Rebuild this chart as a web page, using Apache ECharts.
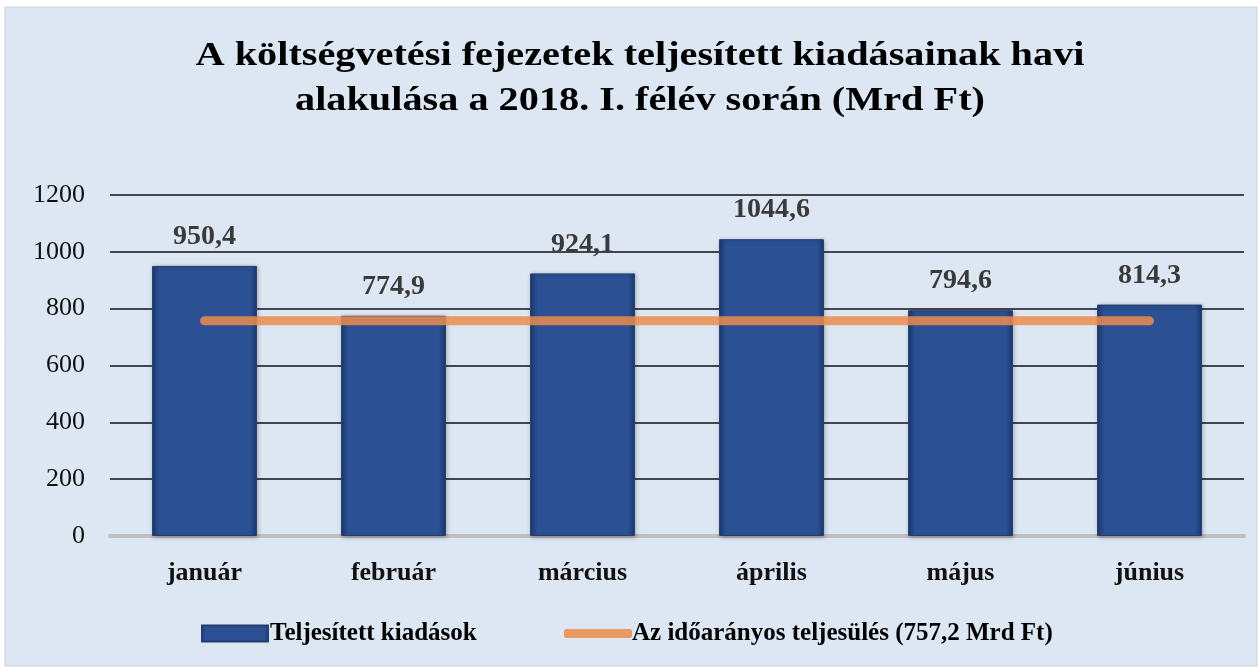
<!DOCTYPE html>
<html>
<head>
<meta charset="utf-8">
<script src="https://cdn.jsdelivr.net/npm/echarts@6/dist/echarts.min.js"></script>
<style>
  html, body { margin: 0; padding: 0; background: #fff; }
  #chart { width: 1258px; height: 667px; }
</style>
</head>
<body>
<div id="chart"></div>
<script>
// Adatok
const months = ['január', 'február', 'március', 'április', 'május', 'június'];
const spending = [950.4, 774.9, 924.1, 1044.6, 794.6, 814.3];
const timeProportional = [757.2, 757.2, 757.2, 757.2, 757.2, 757.2];
const yTicks = [0, 200, 400, 600, 800, 1000, 1200];

const titleText = 'A költségvetési fejezetek teljesített kiadásainak havi\nalakulása a 2018. I. félév során (Mrd Ft)';
const barName = 'Teljesített kiadások';
const lineName = 'Az időarányos teljesülés (757,2 Mrd Ft)';

const SERIF = '"Liberation Serif", "DejaVu Serif", serif';

const chart = echarts.init(document.getElementById('chart'));

const barColor = new echarts.graphic.LinearGradient(0, 0, 1, 0, [
    {offset: 0, color: '#1d3a72'},
    {offset: 0.07, color: '#2b5194'},
    {offset: 0.93, color: '#2b5194'},
    {offset: 1, color: '#1d3a72'}
]);

const legendText = {
    fontFamily: SERIF,
    fontWeight: 'bold',
    fontSize: 25,
    color: '#000'
};

chart.setOption({
    backgroundColor: '#ffffff',
    graphic: [
        {
            type: 'rect',
            z: -10,
            shape: {x: 5, y: 7, width: 1252, height: 659},
            style: {fill: '#dde7f3', stroke: '#c9d1db', lineWidth: 1}
        },
        {
            // cím, vízszintesen kicsit megnyújtva, mint az eredetin
            type: 'text',
            x: 640,
            y: 34,
            scaleX: 1.22,
            style: {
                text: titleText,
                textAlign: 'center',
                fontFamily: SERIF,
                fontWeight: 'bold',
                fontSize: 33,
                lineHeight: 45,
                fill: '#000'
            }
        }
    ],
    legend: [
        {
            left: 196,
            top: 616,
            itemWidth: 66,
            itemHeight: 16,
            itemGap: 0,
            textStyle: Object.assign({padding: [0, 0, 0, -3]}, legendText),
            data: [{name: barName, icon: 'rect'}]
        },
        {
            left: 559,
            top: 616,
            itemWidth: 68,
            itemHeight: 9,
            itemGap: 0,
            textStyle: Object.assign({padding: [0, 0, 0, -5]}, legendText),
            data: [{
                name: lineName,
                icon: 'roundRect',
                itemStyle: {color: '#e99a63'}
            }]
        }
    ],
    grid: {
        left: 110,
        right: 14,
        top: 195,
        bottom: 131
    },
    xAxis: {
        type: 'category',
        data: months,
        axisLine: {lineStyle: {color: '#bfbfbf', width: 4}},
        axisTick: {show: false},
        axisLabel: {
            margin: 24,
            fontFamily: SERIF,
            fontWeight: 'bold',
            fontSize: 26,
            color: '#111'
        }
    },
    yAxis: {
        type: 'value',
        min: yTicks[0],
        max: yTicks[yTicks.length - 1],
        interval: 200,
        axisLine: {show: false},
        axisTick: {show: false},
        splitLine: {lineStyle: {color: '#111', width: 1.5}},
        axisLabel: {
            margin: 25,
            fontFamily: SERIF,
            fontSize: 26,
            color: '#111',
            formatter: v => String(v)
        }
    },
    series: [
        {
            name: barName,
            type: 'bar',
            data: spending,
            barWidth: '55.5%',
            itemStyle: {
                color: barColor,
                borderColor: '#233f6f',
                borderWidth: 1,
                shadowColor: 'rgba(0,0,0,0.3)',
                shadowBlur: 4,
                shadowOffsetX: 1,
                shadowOffsetY: 1
            },
            label: {
                show: true,
                position: 'top',
                distance: 15,
                fontFamily: SERIF,
                fontWeight: 'bold',
                fontSize: 28,
                color: '#3a3a3a',
                formatter: p => String(p.value).replace('.', ',')
            },
            z: 2
        },
        {
            name: lineName,
            type: 'line',
            data: timeProportional,
            symbol: 'none',
            lineStyle: {color: 'rgba(236,140,76,0.85)', width: 9, cap: 'round'},
            itemStyle: {color: '#e99a63'},
            z: 3
        }
    ]
});

window.addEventListener('resize', function () {
    chart.resize();
});
</script>
</body>
</html>
